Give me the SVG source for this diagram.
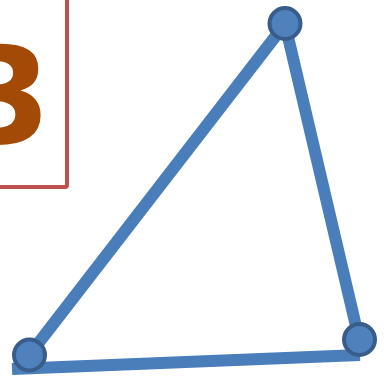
<svg xmlns="http://www.w3.org/2000/svg" width="384" height="376" viewBox="0 0 384 376">
<style>
.edge{stroke:#4A7EBB;stroke-width:12;fill:none}
.vertex{fill:#4F81BD;stroke:#385D8A;stroke-width:4}
</style>
<rect width="384" height="376" fill="#ffffff"/>
<g id="label">
<rect x="-40" y="-40" width="107" height="227" rx="2" fill="none" stroke="#C0504D" stroke-width="4"/>
<text x="-42" y="143" font-family="DejaVu Sans, sans-serif" font-weight="bold" font-size="134" fill="#A34A06">3</text>
</g>
<g id="connectors">
<line class="edge" x1="30" y1="354" x2="285" y2="24"/>
<line class="edge" x1="285" y1="24" x2="359" y2="339"/>
<line class="edge" x1="360" y1="355" x2="12" y2="369"/>
</g>
<g id="v1"><circle class="vertex" cx="285" cy="23.5" r="15.5"/></g>
<g id="v2"><circle class="vertex" cx="29.5" cy="355" r="15.5"/></g>
<g id="v3"><circle class="vertex" cx="359.5" cy="339.5" r="15.5"/></g>
</svg>
